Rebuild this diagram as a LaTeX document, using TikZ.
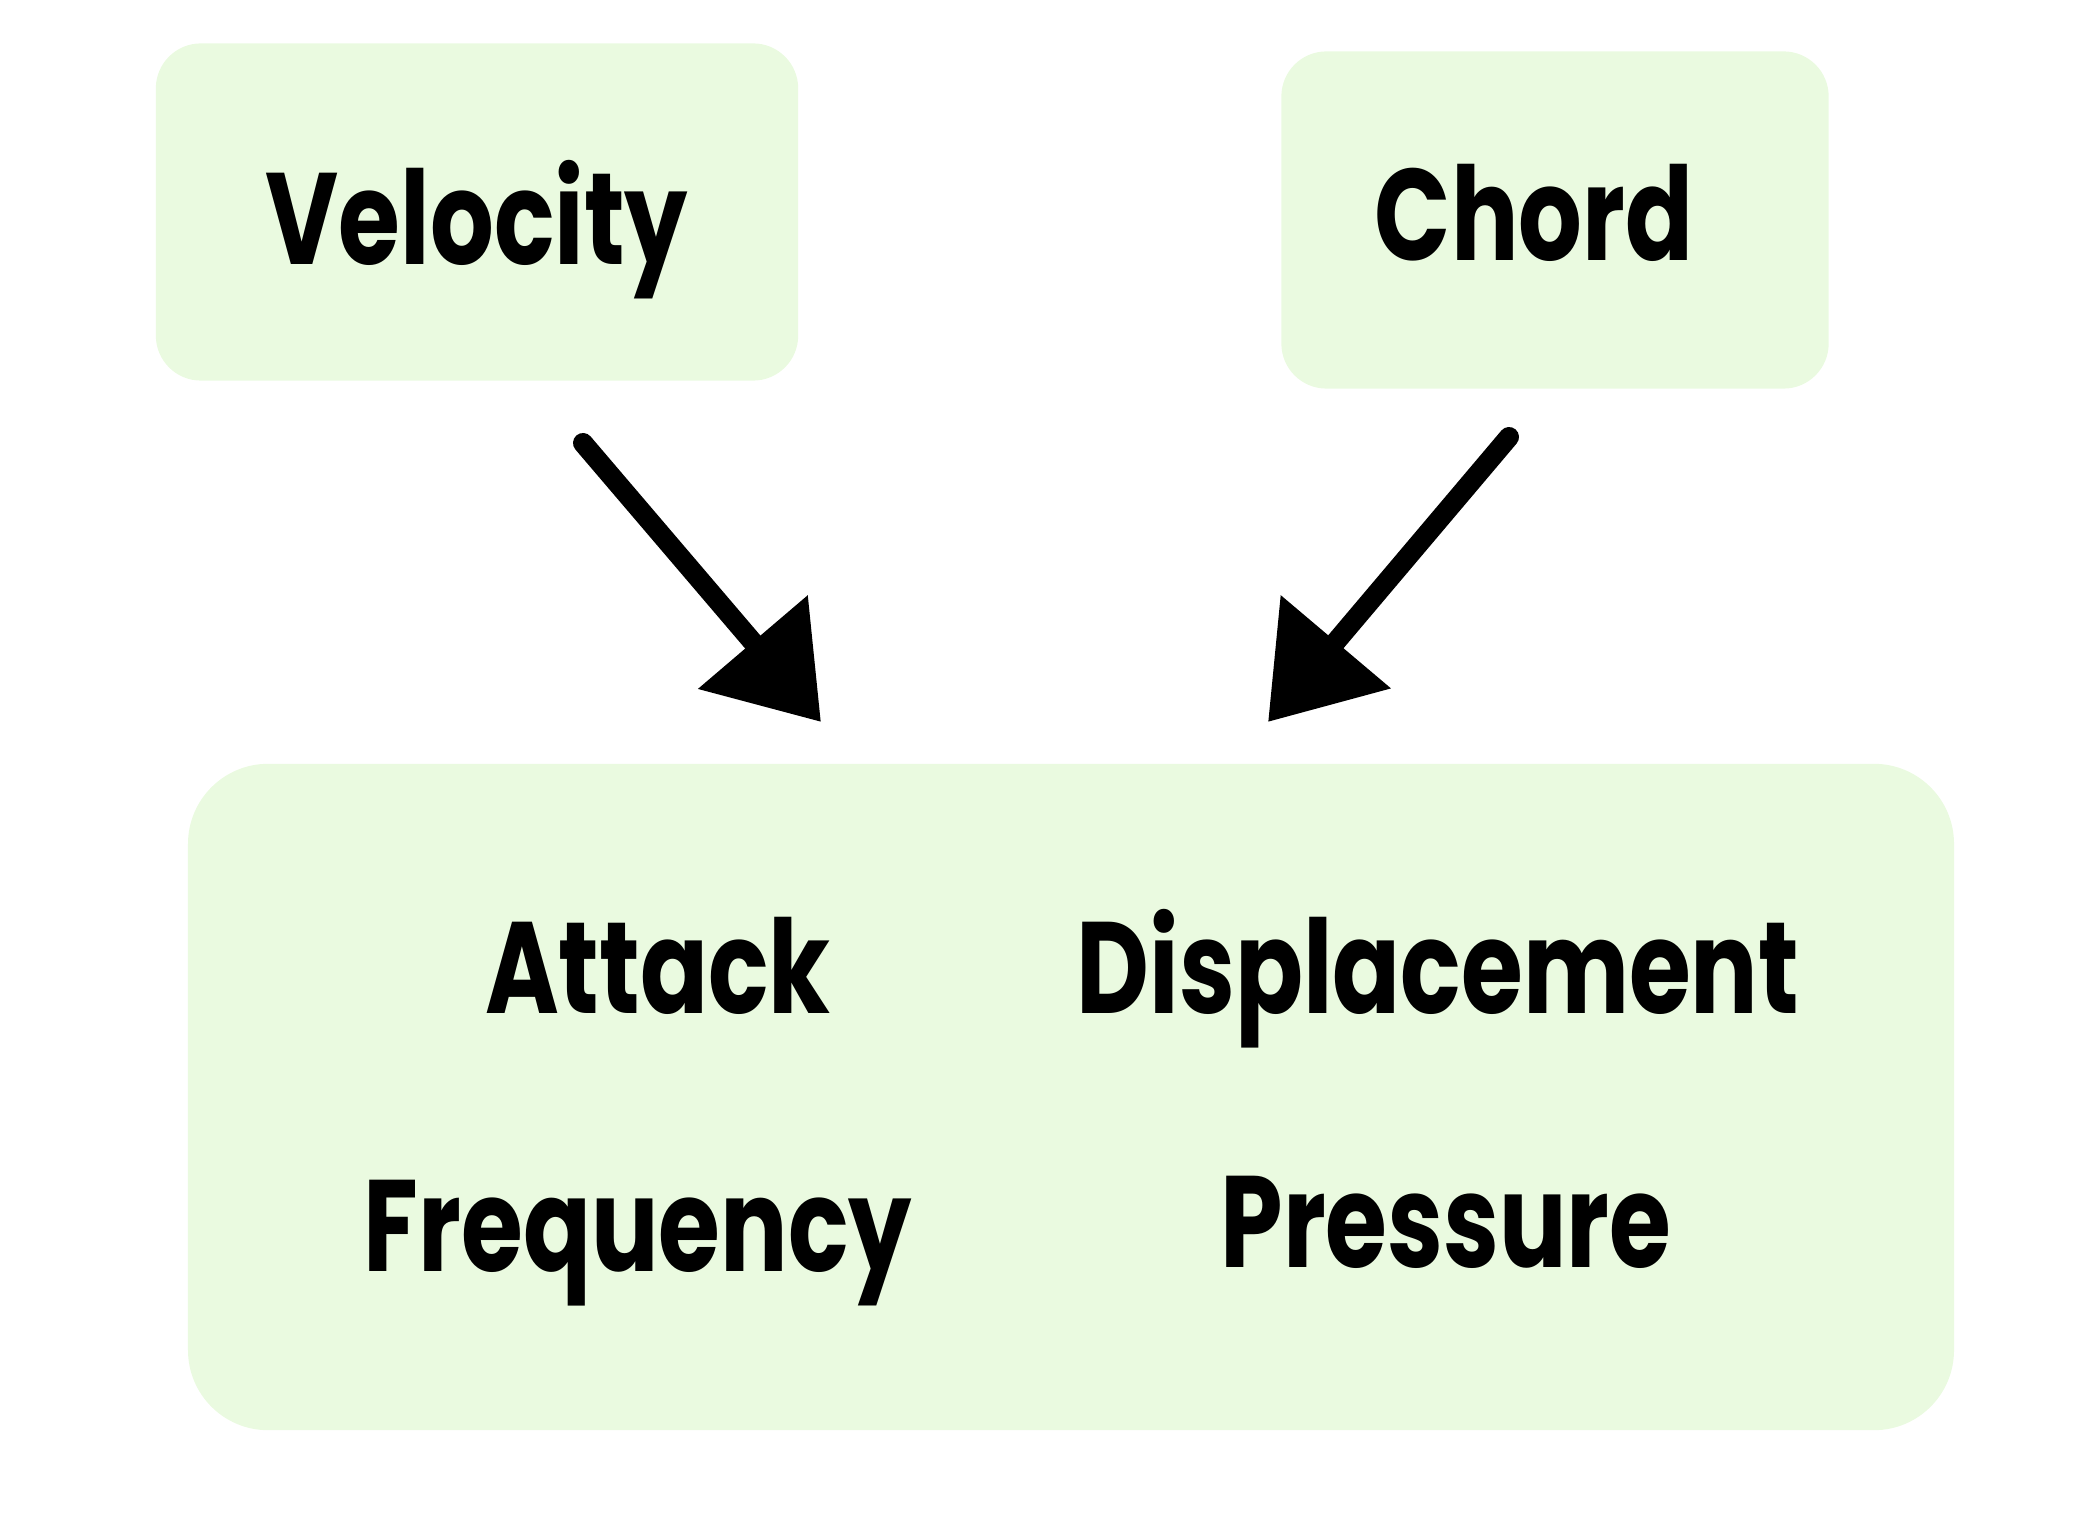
\documentclass[tikz,border=0pt]{standalone}
\usepackage{fontspec}
\setmainfont{Poppins}[FakeStretch=0.77]
\usetikzlibrary{arrows.meta, positioning}
\definecolor{boxgreen}{RGB}{234,250,224}

\begin{document}
\begin{tikzpicture}[x=0.01cm, y=-0.01cm,
    box/.style={fill=boxgreen, rounded corners=0.45cm, inner sep=0pt},
    word/.style={font=\fontsize{37}{44}\selectfont\bfseries, anchor=base},
    bigarrow/.style={line width=0.2cm, line cap=round, -{Triangle[length=1.05cm, width=1.39cm]}}]
\useasboundingbox (0,0) rectangle (2076,1522);

% boxes
\node[box, minimum width=6.42cm, minimum height=3.37cm] (velbox) at (477,212) {};
\node[box, minimum width=5.47cm, minimum height=3.37cm] (chordbox) at (1555,220) {};
\node[box, rounded corners=0.8cm, minimum width=17.65cm, minimum height=6.66cm] (soundbox) at (1071,1097) {};

% words
\node[word] (vel) at (477,265) {Velocity};
\node[word] (chord) at (1534,261) {Chord};
\node[word] (attack) at (658,1013) {Attack};
\node[word] (displ) at (1438,1013) {Displacement};
\node[word] (freq) at (638,1271) {Frequency};
\node[word] (press) at (1446,1267) {Pressure};

% arrows
\coordinate (veltail) at (583,443);
\coordinate (velhead) at (821,722);
\coordinate (chordtail) at (1509,437);
\coordinate (chordhead) at (1268,722);
\draw[bigarrow] (veltail) -- (velhead);
\draw[bigarrow] (chordtail) -- (chordhead);
\end{tikzpicture}
\end{document}
